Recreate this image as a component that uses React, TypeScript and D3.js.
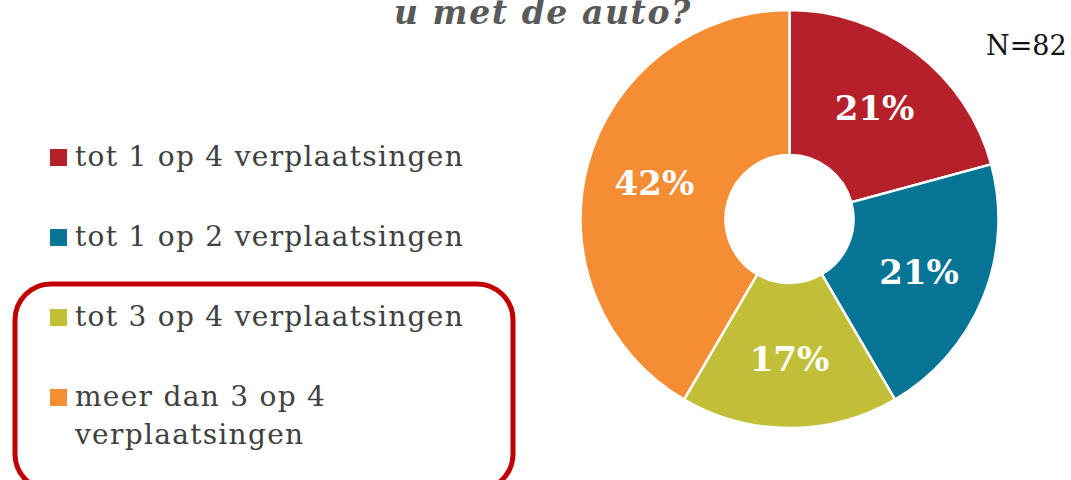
import React from "react";
import * as d3 from "d3";

const categories = [
  "tot 1 op 4 verplaatsingen",
  "tot 1 op 2 verplaatsingen",
  "tot 3 op 4 verplaatsingen",
  "meer dan 3 op 4 verplaatsingen",
];
const legendLines = [
  ["tot 1 op 4 verplaatsingen"],
  ["tot 1 op 2 verplaatsingen"],
  ["tot 3 op 4 verplaatsingen"],
  ["meer dan 3 op 4", "verplaatsingen"],
];
const percents = [21, 21, 17, 42];
const colors = ["#b5202a", "#067494", "#c1bf38", "#f58d35"];
const titleText = "u met de auto?";
const nText = "N=82";

const W = 1071;
const H = 480;
const cx = 789.5;
const cy = 219;
const outerR = 209;
const innerR = 64;
const labelR = 140;
const FONT = "'DejaVu Serif', serif";

export default function App() {
  const pie = d3.pie<number>().sort(null).value((d) => d);
  const arcs = pie(percents);
  const arc = d3.arc<d3.PieArcDatum<number>>().innerRadius(innerR).outerRadius(outerR);
  const labelArc = d3.arc<d3.PieArcDatum<number>>().innerRadius(labelR).outerRadius(labelR);
  const legendY = d3.scalePoint<number>().domain(d3.range(categories.length)).range([166, 406]);

  return (
    <svg
      width={W}
      height={H}
      style={{ position: "absolute", left: 0, top: 0, background: "#fff" }}
    >
      <text
        x={692}
        y={24}
        textAnchor="end"
        fontFamily={FONT}
        fontWeight="bold"
        fontStyle="italic"
        fontSize={33}
        letterSpacing={1.6}
        fill="#595959"
      >
        {titleText}
      </text>
      <g transform={`translate(${cx},${cy})`}>
        {arcs.map((a, i) => (
          <path key={i} d={arc(a) || ""} fill={colors[i]} stroke="#fff" strokeWidth={2.5} />
        ))}
        {arcs.map((a, i) => {
          const [lx, ly] = labelArc.centroid(a);
          return (
            <text
              key={"l" + i}
              x={lx}
              y={ly}
              dy="0.36em"
              textAnchor="middle"
              fontFamily={FONT}
              fontWeight="bold"
              fontSize={34}
              fill="#fff"
            >
              {a.data + "%"}
            </text>
          );
        })}
      </g>
      <text x={986} y={55} fontFamily={FONT} fontSize={27} fill="#111">
        {nText}
      </text>
      {legendLines.map((lines, i) => {
        const y = legendY(i) as number;
        return (
          <g key={"lg" + i}>
            <rect x={50} y={y - 17} width={17} height={17} fill={colors[i]} />
            <text x={75} y={y} fontFamily={FONT} fontSize={28} letterSpacing={1.3} fill="#404040">
              {lines.map((ln, j) => (
                <tspan key={j} x={75} y={y + j * 38}>
                  {ln}
                </tspan>
              ))}
            </text>
          </g>
        );
      })}
      <rect
        x={15}
        y={284}
        width={498}
        height={206}
        rx={36}
        ry={36}
        fill="none"
        stroke="#c00000"
        strokeWidth={5}
      />
    </svg>
  );
}
